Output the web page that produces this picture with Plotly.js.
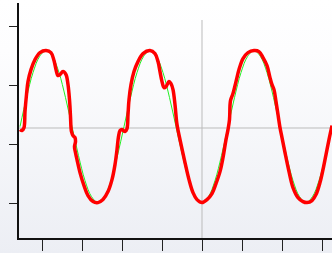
<!DOCTYPE html>
<html>
<head>
<meta charset="utf-8">
<script src="https://cdn.plot.ly/plotly-3.0.1.min.js"></script>
<style>
  html, body { margin:0; padding:0; width:332px; height:253px; overflow:hidden;
    background: linear-gradient(to bottom, #ffffff 0%, #fdfdfe 20%, #eceef4 100%); }
  #chart { width:332px; height:253px; }
</style>
</head>
<body>
<div id="chart"></div>
<script>
// reference sine (green)
var refT = [0,6.5,13,19.5,26,32.5,39,45.5,52,58.5,65,71.5,78,84.5,91,97.5,
            104,110.5,117,123.5,130,136.5,143,149.5,156,162.5,169,175.5,182,188.5,195,201.5,
            208,214.5,221,227.5,234,240.5,247,253.5,260,266.5,273,279.5,286,292.5,299,305.5,312];
var refV = [0,29,54,70,76,70,54,29,0,-29,-54,-70,-76,-70,-54,-29,
            0,29,54,70,76,70,54,29,0,-29,-54,-70,-76,-70,-54,-29,
            0,29,54,70,76,70,54,29,0,-29,-54,-70,-76,-70,-54,-29,0];

// measured signal (red)
var sigT = [0,2,4,5,6.5,8,11,15,20,26,31,34,36,38,40,43,46,48,49.5,50.5,51,51.5,53,55,55.5,54.5,55.5,57,
            60,64,68,73,78,83,88,92,95,97,98.5,100,102,105,107,108,109,111,114,118,123,130,135,138,140,
            142,144,146,149,151,153,155,157,160,165,169,173,177,182,187,192,196,200,203,206,208,209.5,
            210.5,213,216,219,223,228,234,239,243,247,250,252,254,256,258,260,262,265,269,273,278,283,
            287,292,296,300,303,306,309,312];
var sigV = [-3,-4,-1,15,32,45,57,67,74,76,74,66,57,51,52,55,52,42,27,10,-1,-5,-9,-11,-15,-20,-26,-33,
            -46,-59,-69,-75,-76,-73,-65,-53,-38,-23,-10,-4,-3,-5,-2,12,27,42,55,65,73,76,73,65,55,
            45,39,40,45,43,37,22,2,-13,-36,-53,-66,-73,-76,-73,-67,-57,-45,-31,-13,-3,7,
            26,33,45,57,68,74,76,75,69,61,49,42,37,25,12,-1,-11,-26,-45,-61,-71,-75,
            -76,-74,-68,-56,-43,-28,-13,1];

var xTicks = [22,62,102,142,182,222,262,302];
var yTicks = [100,41,-18,-77];
var crossT = 182;
var crossV = -1.4;

var traces = [
  {x: refT, y: refV, mode:'lines', line:{color:'#22ee22', width:1, shape:'spline'}, hoverinfo:'skip'},
  {x: sigT, y: sigV, mode:'lines', line:{color:'#ff0000', width:3.5, shape:'spline', smoothing:1}, hoverinfo:'skip'}
];

var layout = {
  width:332, height:253,
  margin:{l:19, r:0, t:3, b:15, pad:0},
  paper_bgcolor:'rgba(0,0,0,0)',
  plot_bgcolor:'rgba(0,0,0,0)',
  showlegend:false,
  xaxis:{range:[-1,312], showgrid:false, zeroline:false, showline:true, linecolor:'#111', linewidth:2,
         ticks:'outside', ticklen:11, tickwidth:1, tickcolor:'#222', tickvals:xTicks, showticklabels:false, fixedrange:true},
  yaxis:{range:[-111.4,123.6], showgrid:false, zeroline:false, showline:true, linecolor:'#111', linewidth:2,
         ticks:'outside', ticklen:8, tickwidth:1, tickcolor:'#222', tickvals:yTicks, showticklabels:false, fixedrange:true},
  shapes:[
    {type:'line', layer:'below', xref:'x', yref:'y', x0:crossT, x1:crossT, y0:-111.4, y1:106.6, line:{color:'#bbbbbb', width:1}},
    {type:'line', layer:'below', xref:'paper', yref:'y', x0:0, x1:1, y0:crossV, y1:crossV, line:{color:'#bbbbbb', width:1}}
  ]
};

Plotly.newPlot('chart', traces, layout, {staticPlot:true, displayModeBar:false});
</script>
</body>
</html>
